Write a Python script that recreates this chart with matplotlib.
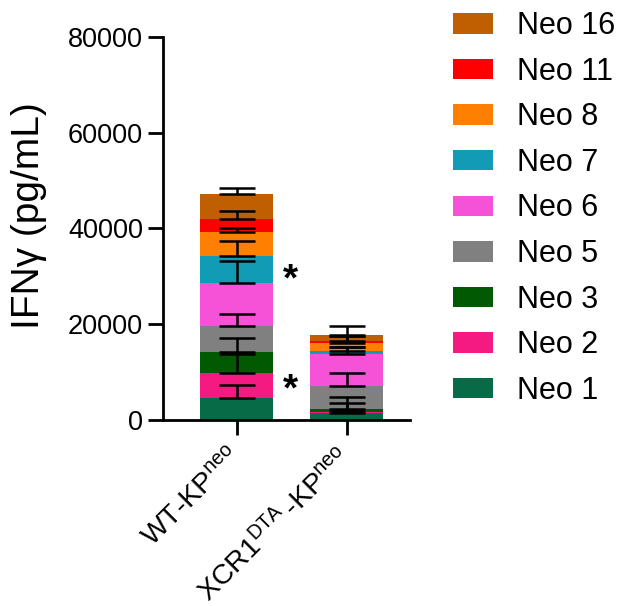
import numpy as np
import matplotlib
matplotlib.use('Agg')
import matplotlib.pyplot as plt

plt.rcParams['font.family'] = ['Liberation Sans', 'DejaVu Sans']
plt.rcParams['mathtext.fontset'] = 'custom'
plt.rcParams['mathtext.rm'] = 'Liberation Sans'
plt.rcParams['mathtext.it'] = 'Liberation Sans:italic'

# Data (pg/mL), stacking order bottom -> top
groups = [r'WT-KP$^{\mathrm{neo}}$', r'XCR1$^{\mathrm{DTA}}\,$-KP$^{\mathrm{neo}}$']
neos = ['Neo 1', 'Neo 2', 'Neo 3', 'Neo 5', 'Neo 6', 'Neo 7', 'Neo 8', 'Neo 11', 'Neo 16']
colors = ['#066B46', '#F51A82', '#015A01', '#808080', '#F552D8',
          '#129BB5', '#FF8000', '#FF0000', '#C05F02']

wt_mean = [4500, 5250, 4350, 5500, 9100, 5600, 5000, 2600, 5300]
wt_err = [2700, 4050, 3000, 2500, 4400, 3100, 900, 1800, 1200]
xcr_mean = [1500, 200, 500, 4900, 6600, 700, 1600, 400, 1400]
xcr_err = [600, 1900, 2500, 2650, 1600, 900, 1600, 1200, 1900]

means = np.array([wt_mean, xcr_mean])
errs = np.array([wt_err, xcr_err])

fig = plt.figure(figsize=(6.18, 6.06), dpi=100)
ax = fig.add_axes([0.264, 0.307, 0.399, 0.632])

x = np.arange(len(groups))
bottom = np.zeros(len(groups))
handles = []
for i in range(len(neos)):
    b = ax.bar(x, means[:, i], width=0.667, bottom=bottom, color=colors[i],
               label=neos[i], zorder=2)
    handles.append(b)
    top = bottom + means[:, i]
    ax.errorbar(x, top, yerr=[np.zeros(len(groups)), errs[:, i]], fmt='none',
                ecolor='black', elinewidth=1.8, capsize=13, capthick=1.8, zorder=3)
    bottom = top

# significance marks
ax.text(0.485, 29200, '*', fontsize=28, fontweight='bold', ha='center', va='center')
ax.text(0.485, 6200, '*', fontsize=28, fontweight='bold', ha='center', va='center')

ax.set_xlim(-0.67, 1.575)
ax.set_ylim(0, 80000)
ax.set_yticks([0, 20000, 40000, 60000, 80000])
ax.set_xticks(x)
ax.set_xticklabels(groups, rotation=45, ha='right', va='center', rotation_mode='anchor')
ax.set_ylabel('IFNγ (pg/mL)', fontsize=28)
ax.yaxis.set_label_coords(-0.47, 0.533)
ax.tick_params(axis='y', labelsize=19.5, width=2, length=11)
ax.tick_params(axis='x', labelsize=20.5, width=2, length=11, pad=13)
ax.spines['top'].set_visible(False)
ax.spines['right'].set_visible(False)
ax.spines['left'].set_linewidth(2)
ax.spines['bottom'].set_linewidth(2)

fig.legend(handles[::-1], neos[::-1], loc='upper left', bbox_to_anchor=(0.689, 1.027),
           frameon=False, fontsize=22, handlelength=1.3, handleheight=0.65,
           labelspacing=0.51, handletextpad=0.8)

plt.savefig('out.png', dpi=100)
